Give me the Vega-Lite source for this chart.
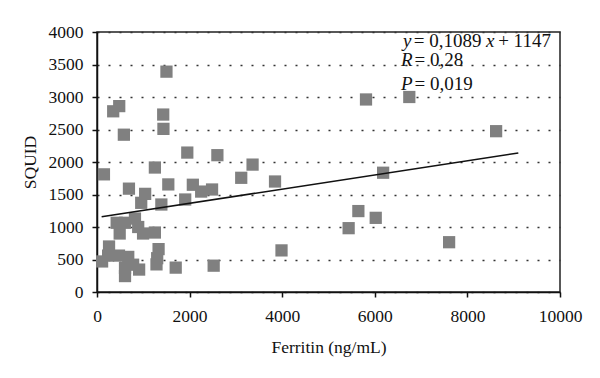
{
  "$schema": "https://vega.github.io/schema/vega-lite/v6.json",
  "width": 463,
  "height": 260,
  "autosize": {"type": "none"},
  "padding": {"left": 97, "top": 32, "right": 40, "bottom": 86},
  "background": "white",
  "config": {
    "view": {"stroke": "#222222", "strokeWidth": 1.5},
    "font": "Liberation Serif",
    "axis": {
      "labelFont": "Liberation Serif",
      "labelFontSize": 17.5,
      "labelColor": "#111111",
      "titleFont": "Liberation Serif",
      "titleFontSize": 17.5,
      "titleFontWeight": "normal",
      "titleColor": "#111111",
      "domainColor": "#111111",
      "domainWidth": 1.5,
      "tickColor": "#111111",
      "tickWidth": 1.5,
      "tickSize": 5,
      "labelOverlap": false,
      "format": "d"
    }
  },
  "datasets": {
    "points": [
      {"Ferritin": 1500, "SQUID": 3390},
      {"Ferritin": 480, "SQUID": 2860},
      {"Ferritin": 350, "SQUID": 2780},
      {"Ferritin": 1430, "SQUID": 2730},
      {"Ferritin": 1435, "SQUID": 2510},
      {"Ferritin": 580, "SQUID": 2420},
      {"Ferritin": 1950, "SQUID": 2145},
      {"Ferritin": 2600, "SQUID": 2105},
      {"Ferritin": 1250, "SQUID": 1915},
      {"Ferritin": 3360, "SQUID": 1960},
      {"Ferritin": 150, "SQUID": 1810},
      {"Ferritin": 3115, "SQUID": 1757},
      {"Ferritin": 3845, "SQUID": 1700},
      {"Ferritin": 690, "SQUID": 1590},
      {"Ferritin": 1540, "SQUID": 1655},
      {"Ferritin": 2070, "SQUID": 1650},
      {"Ferritin": 2250, "SQUID": 1545},
      {"Ferritin": 2485, "SQUID": 1577},
      {"Ferritin": 1040, "SQUID": 1510},
      {"Ferritin": 955, "SQUID": 1372},
      {"Ferritin": 1905, "SQUID": 1423},
      {"Ferritin": 1390, "SQUID": 1346},
      {"Ferritin": 820, "SQUID": 1130},
      {"Ferritin": 890, "SQUID": 1000},
      {"Ferritin": 425, "SQUID": 1065},
      {"Ferritin": 605, "SQUID": 1065},
      {"Ferritin": 490, "SQUID": 900},
      {"Ferritin": 995, "SQUID": 900},
      {"Ferritin": 1250, "SQUID": 915},
      {"Ferritin": 260, "SQUID": 700},
      {"Ferritin": 1330, "SQUID": 660},
      {"Ferritin": 1300, "SQUID": 520},
      {"Ferritin": 3985, "SQUID": 640},
      {"Ferritin": 110, "SQUID": 470},
      {"Ferritin": 240, "SQUID": 560},
      {"Ferritin": 475, "SQUID": 560},
      {"Ferritin": 675, "SQUID": 540},
      {"Ferritin": 605, "SQUID": 370},
      {"Ferritin": 605, "SQUID": 245},
      {"Ferritin": 910, "SQUID": 345},
      {"Ferritin": 780, "SQUID": 420},
      {"Ferritin": 1285, "SQUID": 425},
      {"Ferritin": 1700, "SQUID": 375},
      {"Ferritin": 2520, "SQUID": 405},
      {"Ferritin": 6180, "SQUID": 1835},
      {"Ferritin": 5645, "SQUID": 1245},
      {"Ferritin": 5435, "SQUID": 982},
      {"Ferritin": 6020, "SQUID": 1141},
      {"Ferritin": 7605, "SQUID": 766},
      {"Ferritin": 8620, "SQUID": 2474},
      {"Ferritin": 6745, "SQUID": 3000},
      {"Ferritin": 5810, "SQUID": 2962}
    ],
    "trend": [
      {"Ferritin": 100, "SQUID": 1158},
      {"Ferritin": 9100, "SQUID": 2138}
    ],
    "italic": [
      {"Ferritin": 6609, "SQUID": 3772, "label": "y"},
      {"Ferritin": 8404, "SQUID": 3772, "label": "x"},
      {"Ferritin": 6566, "SQUID": 3474, "label": "R"},
      {"Ferritin": 6566, "SQUID": 3115, "label": "P"}
    ],
    "normal": [
      {"Ferritin": 6840, "SQUID": 3772, "label": "= 0,1089"},
      {"Ferritin": 8664, "SQUID": 3772, "label": "+ 1147"},
      {"Ferritin": 6860, "SQUID": 3474, "label": "= 0,28"},
      {"Ferritin": 6860, "SQUID": 3115, "label": "= 0,019"}
    ]
  },
  "encoding": {
    "x": {
      "field": "Ferritin", "type": "quantitative",
      "scale": {"domain": [0, 10000], "nice": false},
      "axis": {"title": "Ferritin (ng/mL)", "values": [0, 2000, 4000, 6000, 8000, 10000], "tickCount": 12, "grid": false, "labelPadding": 10, "titlePadding": 14, "labelFlush": false}
    },
    "y": {
      "field": "SQUID", "type": "quantitative",
      "scale": {"domain": [0, 4000], "nice": false},
      "axis": {"title": "SQUID", "values": [0, 500, 1000, 1500, 2000, 2500, 3000, 3500, 4000], "tickCount": 12, "grid": true, "gridDash": [2, 9], "gridColor": "#333333", "gridWidth": 1.5, "labelPadding": 9, "titlePadding": 9, "labelFlush": false}
    }
  },
  "layer": [
    {
      "data": {"name": "points"},
      "mark": {"type": "point", "shape": "square", "filled": true, "size": 150, "color": "#808080", "opacity": 1}
    },
    {
      "data": {"name": "trend"},
      "mark": {"type": "line", "color": "#111111", "strokeWidth": 1.5},
      "encoding": {}
    },
    {
      "data": {"name": "italic"},
      "mark": {"type": "text", "align": "left", "baseline": "alphabetic", "fontStyle": "italic", "fontSize": 19, "font": "Liberation Serif", "color": "#111111"},
      "encoding": {"text": {"field": "label"}}
    },
    {
      "data": {"name": "normal"},
      "mark": {"type": "text", "align": "left", "baseline": "alphabetic", "fontSize": 19, "font": "Liberation Serif", "color": "#111111"},
      "encoding": {"text": {"field": "label"}}
    }
  ]
}
